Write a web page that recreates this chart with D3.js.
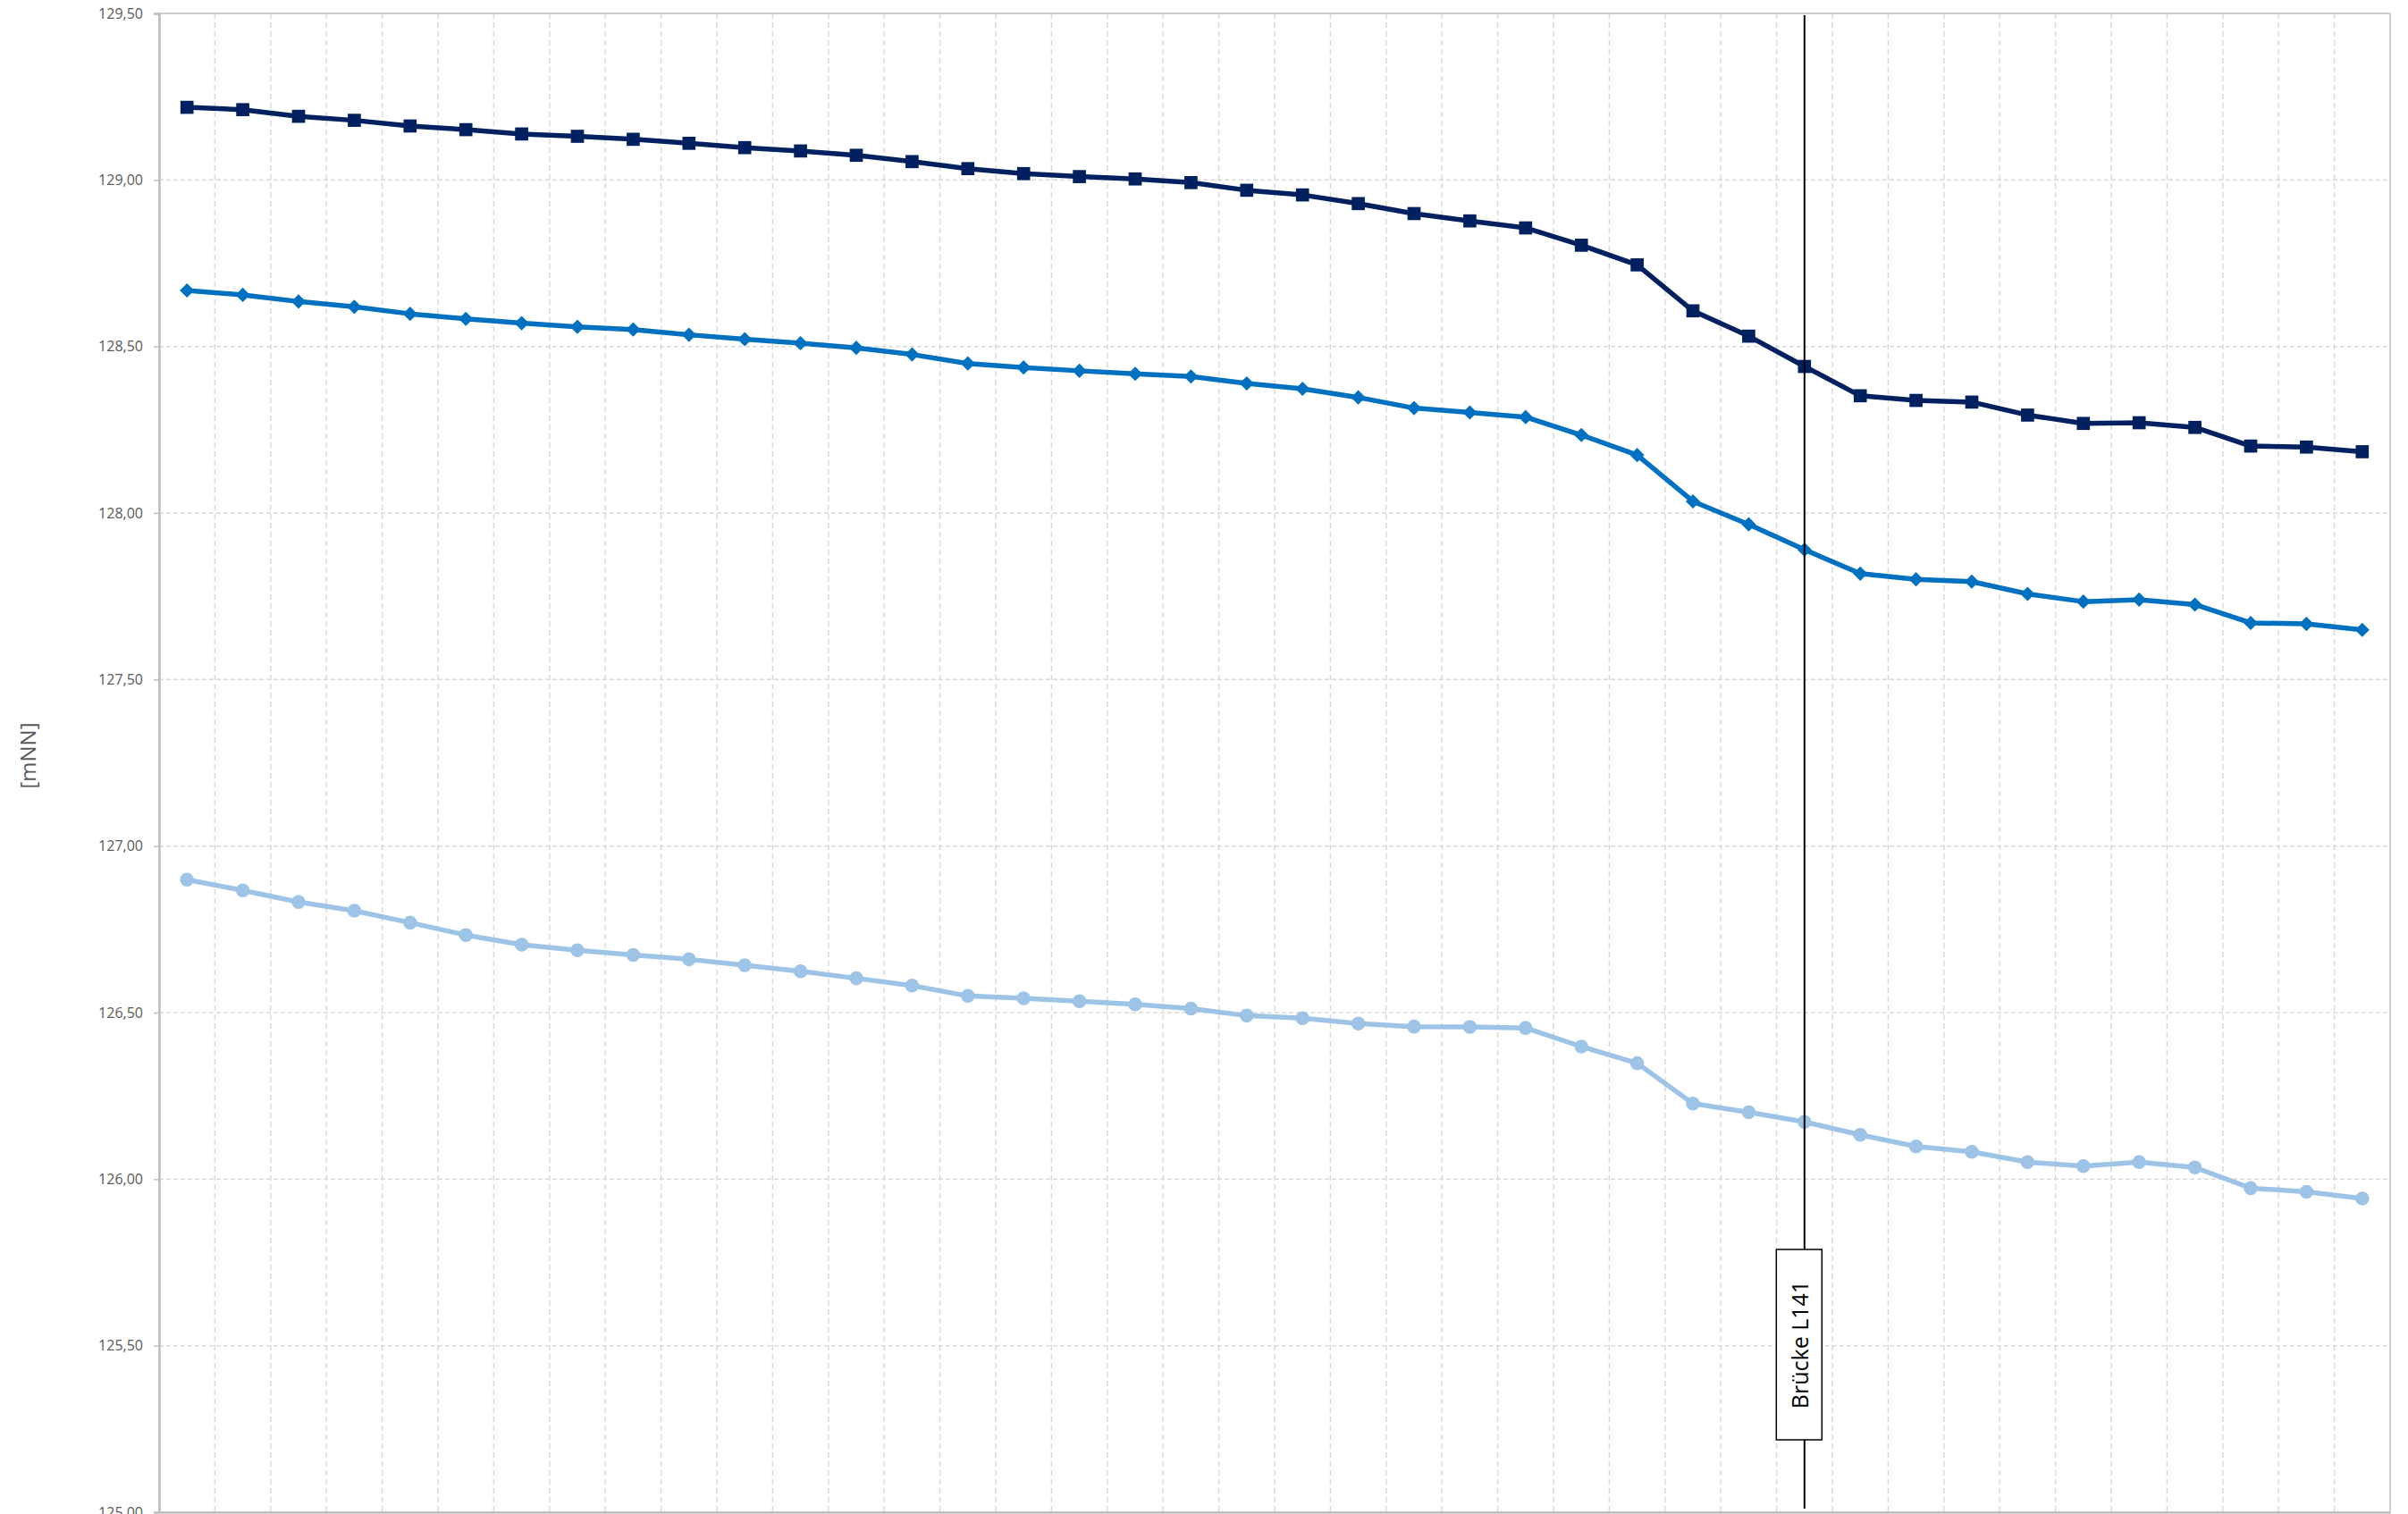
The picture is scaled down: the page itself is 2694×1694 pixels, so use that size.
<!DOCTYPE html>
<html>
<head>
<meta charset="utf-8">
<script src="https://cdn.jsdelivr.net/npm/d3@7"></script>
<style>
  html, body { margin: 0; padding: 0; background: #fff; }
  svg { display: block; }
</style>
</head>
<body>
<svg id="chart" width="2694" height="1694"></svg>
<script>
// ---- Data ----
const stations = d3.range(1, 41).map(String);

const seriesTop = [129.218, 129.211, 129.191, 129.179, 129.162, 129.151, 129.138, 129.131, 129.122, 129.110,
  129.097, 129.087, 129.074, 129.055, 129.034, 129.019, 129.010, 129.003, 128.992, 128.969,
  128.955, 128.929, 128.899, 128.877, 128.856, 128.804, 128.745, 128.607, 128.531, 128.440,
  128.352, 128.338, 128.333, 128.294, 128.269, 128.271, 128.257, 128.201, 128.198, 128.184];

const seriesMid = [128.668, 128.655, 128.635, 128.619, 128.598, 128.583, 128.570, 128.559, 128.551, 128.535,
  128.522, 128.510, 128.496, 128.476, 128.449, 128.437, 128.427, 128.418, 128.410, 128.389,
  128.373, 128.347, 128.315, 128.302, 128.288, 128.234, 128.174, 128.035, 127.966, 127.890,
  127.818, 127.801, 127.794, 127.757, 127.734, 127.740, 127.725, 127.670, 127.667, 127.649];

const seriesLow = [126.899, 126.867, 126.832, 126.806, 126.770, 126.733, 126.704, 126.687, 126.673, 126.660,
  126.642, 126.624, 126.603, 126.581, 126.550, 126.543, 126.534, 126.525, 126.512, 126.491,
  126.483, 126.467, 126.458, 126.457, 126.454, 126.398, 126.348, 126.227, 126.201, 126.172,
  126.133, 126.098, 126.082, 126.051, 126.039, 126.051, 126.035, 125.973, 125.962, 125.942];

const yTicks = [125.0, 125.5, 126.0, 126.5, 127.0, 127.5, 128.0, 128.5, 129.0, 129.5];
const yTitle = "[mNN]";
const bridgeStation = "30";
const bridgeLabel = "Brücke L141";

// ---- Layout ----
const pL = 178, pR = 2674, pT = 15, pB = 1692;
const svg = d3.select("#chart");

const x = d3.scaleBand().domain(stations).range([pL, pR]).paddingInner(0).paddingOuter(0);
const xc = s => x(s) + x.bandwidth() / 2;
const y = d3.scaleLinear().domain([125, 129.5]).range([pB, pT]);

const locale = d3.formatLocale({decimal: ",", thousands: ".", grouping: [3], currency: ["", "€"]});
const fmt = locale.format(".2f");

// Gridlines
const grid = svg.append("g");
grid.selectAll("line.h").data(yTicks.filter(t => t > 125 && t < 129.5)).join("line")
  .attr("class", "h")
  .attr("x1", pL).attr("x2", pR)
  .attr("y1", d => y(d)).attr("y2", d => y(d))
  .attr("stroke", "#D9D9D9").attr("stroke-width", 1.5).attr("stroke-dasharray", "5,3");
grid.selectAll("line.v").data(stations.slice(1)).join("line")
  .attr("class", "v")
  .attr("x1", d => x(d)).attr("x2", d => x(d))
  .attr("y1", pT).attr("y2", pB)
  .attr("stroke", "#D9D9D9").attr("stroke-width", 1.5).attr("stroke-dasharray", "6,4");

// Plot border (top/right)
svg.append("rect").attr("x", pL).attr("y", pT).attr("width", pR - pL).attr("height", pB - pT)
  .attr("fill", "none").attr("stroke", "#BFBFBF").attr("stroke-width", 1.5);

// Y axis
const yAxis = d3.axisLeft(y).tickValues(yTicks).tickFormat(fmt).tickSize(6).tickPadding(12);
const gy = svg.append("g").attr("transform", `translate(${pL},0)`).call(yAxis);
gy.select(".domain").attr("stroke", "#BFBFBF").attr("stroke-width", 2.5);
gy.selectAll(".tick line").attr("stroke", "#BFBFBF").attr("stroke-width", 1.5);
gy.selectAll(".tick text").attr("fill", "#595959").attr("font-family", "'Open Sans', sans-serif")
  .attr("font-size", 16);

// X axis (bottom line, no labels)
const xAxis = d3.axisBottom(x).tickValues([]).tickSize(0);
const gx = svg.append("g").attr("transform", `translate(0,${pB})`).call(xAxis);
gx.select(".domain").attr("stroke", "#BFBFBF").attr("stroke-width", 2.5);

// Y title
svg.append("text").attr("transform", `translate(30,${(pT + pB) / 2 - 8}) rotate(-90)`)
  .attr("text-anchor", "middle").attr("dominant-baseline", "central")
  .attr("fill", "#595959").attr("font-family", "'Open Sans', sans-serif").attr("font-size", 24)
  .text(yTitle);

// Series
const lineGen = d3.line().x((d, i) => xc(stations[i])).y(d => y(d));
const series = [
  {data: seriesLow, color: "#9DC3E6", marker: "circle", size: 190, rot: 0},
  {data: seriesMid, color: "#0070C0", marker: "square", size: 130, rot: 45},
  {data: seriesTop, color: "#002060", marker: "square", size: 215, rot: 0}
];
const symbolMap = {circle: d3.symbolCircle, square: d3.symbolSquare};

series.forEach(s => {
  svg.append("path").datum(s.data).attr("d", lineGen)
    .attr("fill", "none").attr("stroke", s.color).attr("stroke-width", 5.5)
    .attr("stroke-linejoin", "round");
  svg.append("g").selectAll("path").data(s.data).join("path")
    .attr("transform", (d, i) => `translate(${xc(stations[i])},${y(d)}) rotate(${s.rot})`)
    .attr("d", d3.symbol().type(symbolMap[s.marker]).size(s.size))
    .attr("fill", s.color);
});

// Bridge marker
const bx = xc(bridgeStation);
svg.append("line").attr("x1", bx).attr("x2", bx).attr("y1", pT + 2).attr("y2", pB - 4)
  .attr("stroke", "#000").attr("stroke-width", 2);
const boxTop = 1398, boxH = 213, boxW = 51;
svg.append("rect").attr("x", bx - boxW / 2 - 6).attr("y", boxTop).attr("width", boxW).attr("height", boxH)
  .attr("fill", "#fff").attr("stroke", "#000").attr("stroke-width", 1.5);
svg.append("text").attr("transform", `translate(${bx - 6},${boxTop + boxH / 2}) rotate(-90)`)
  .attr("text-anchor", "middle").attr("dominant-baseline", "central")
  .attr("fill", "#000").attr("font-family", "'Open Sans', sans-serif").attr("font-size", 25)
  .text(bridgeLabel);
</script>
</body>
</html>
